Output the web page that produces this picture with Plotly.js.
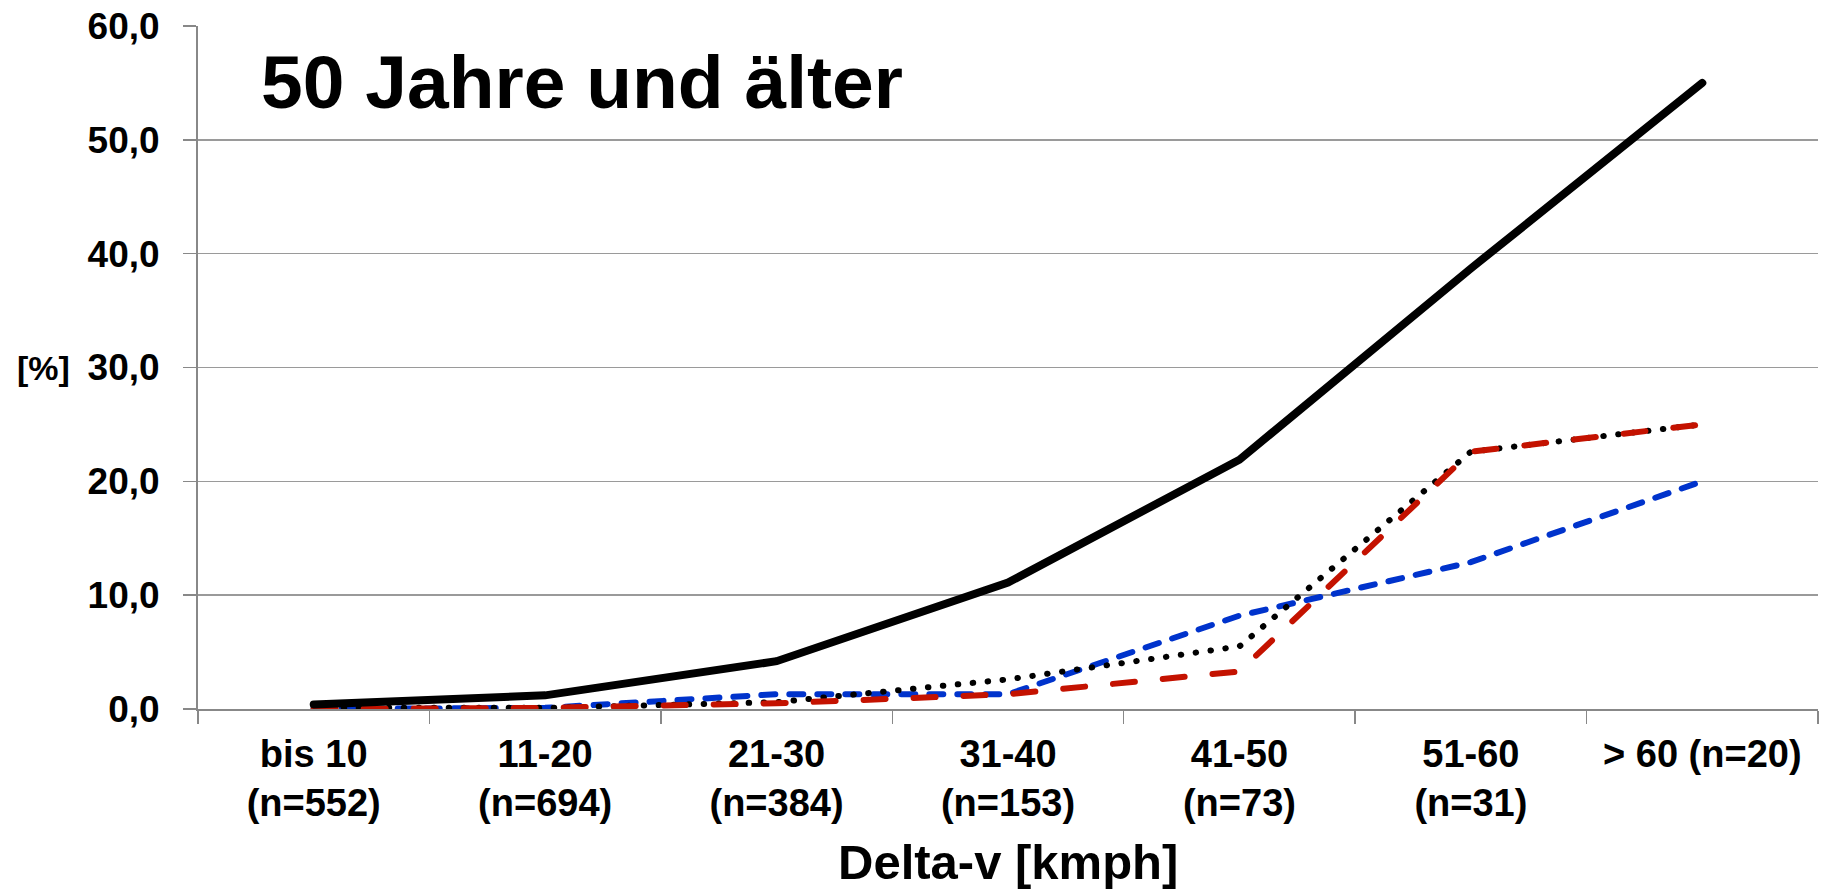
<!DOCTYPE html>
<html>
<head>
<meta charset="utf-8">
<script src="https://cdn.plot.ly/plotly-3.0.1.min.js"></script>
<style>
  html, body { margin: 0; padding: 0; background: #fff; }
  #chart { width: 1831px; height: 889px; }
  .js-line { stroke-linecap: round; }
</style>
</head>
<body>
<div id="chart"></div>
<script>
const categories = [
  "bis 10<br>(n=552)",
  "11-20<br>(n=694)",
  "21-30<br>(n=384)",
  "31-40<br>(n=153)",
  "41-50<br>(n=73)",
  "51-60<br>(n=31)",
  "> 60 (n=20)"
];
const seriesSolid  = [0.4, 1.2, 4.2, 11.1, 21.9, 38.7, 55.0];
const seriesBlue   = [0.0, 0.1, 1.3, 1.3, 8.2, 12.9, 20.0];
const seriesDotted = [0.1, 0.1, 0.6, 2.6, 5.5, 22.6, 25.0];
const seriesRed    = [0.0, 0.1, 0.5, 1.3, 3.3, 22.6, 25.0];
const yTickVals  = [0, 10, 20, 30, 40, 50, 60];
const yTickTexts = ["0,0", "10,0", "20,0", "30,0", "40,0", "50,0", "60,0"];

const FONT = "Liberation Sans, Arial, Helvetica, sans-serif";

const traces = [
  { x: categories, y: seriesBlue, type: "scatter", mode: "lines",
    line: { color: "#0033CC", width: 6, dash: "14px,14px" }, hoverinfo: "skip" },
  { x: categories, y: seriesDotted, type: "scatter", mode: "lines",
    line: { color: "#000000", width: 6, dash: "0.5px,14.5px" }, hoverinfo: "skip" },
  { x: categories, y: seriesRed, type: "scatter", mode: "lines",
    line: { color: "#C41200", width: 6, dash: "22px,28px" }, hoverinfo: "skip" },
  { x: categories, y: seriesSolid, type: "scatter", mode: "lines",
    line: { color: "#000000", width: 8 }, hoverinfo: "skip" }
];

const layout = {
  width: 1831, height: 889,
  margin: { l: 198, r: 13, t: 26, b: 180 },
  paper_bgcolor: "#ffffff", plot_bgcolor: "#ffffff",
  showlegend: false,
  font: { family: FONT, color: "#000" },
  xaxis: {
    type: "category",
    range: [-0.5, 6.5],
    showgrid: false,
    zeroline: false,
    showline: true, linecolor: "#888888", linewidth: 2,
    ticks: "outside", ticklen: 13, tickcolor: "#888888", tickwidth: 1.5,
    tickson: "boundaries",
    tickfont: { family: FONT, size: 38, color: "#000", weight: "bold" },
    ticklabelstandoff: 10,
    fixedrange: true
  },
  yaxis: {
    range: [0, 60],
    tickvals: yTickVals, ticktext: yTickTexts,
    showgrid: true, gridcolor: "#9a9a9a", gridwidth: 1.5,
    zeroline: false,
    showline: true, linecolor: "#888888", linewidth: 2,
    ticks: "outside", ticklen: 13, tickcolor: "#888888", tickwidth: 1.5,
    tickfont: { family: FONT, size: 37, color: "#000", weight: "bold" },
    ticklabelstandoff: 16,
    fixedrange: true
  },
  annotations: [
    { text: "50 Jahre und älter", xref: "paper", yref: "paper",
      x: (259 - 198) / 1620, y: (709 - 82) / 683, xanchor: "left", yanchor: "middle",
      showarrow: false, font: { family: FONT, size: 75, color: "#000", weight: "bold" } },
    { text: "[%]", xref: "paper", yref: "y",
      x: (72 - 198) / 1620, y: 30, xanchor: "right", yanchor: "middle",
      showarrow: false, font: { family: FONT, size: 34, color: "#000", weight: "bold" } },
    { text: "Delta-v [kmph]", xref: "paper", yref: "paper",
      x: 0.5, y: (709 - 862) / 683, xanchor: "center", yanchor: "middle",
      showarrow: false, font: { family: FONT, size: 49, color: "#000", weight: "bold" } }
  ]
};

Plotly.newPlot("chart", traces, layout, { displayModeBar: false, staticPlot: true });
</script>
</body>
</html>
